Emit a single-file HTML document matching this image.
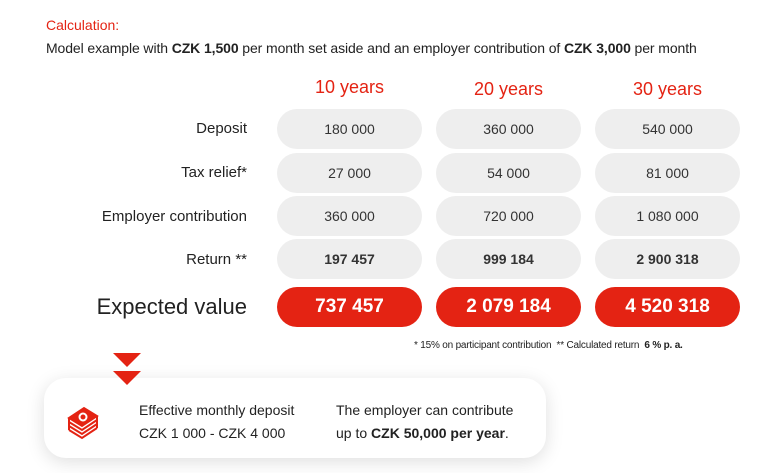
<!DOCTYPE html><html><head><style>
body{margin:0;width:768px;height:473px;background:#fff;font-family:"Liberation Sans",sans-serif;position:relative;overflow:hidden;color:#222}
.a{position:absolute}
.pill{position:absolute;width:145px;height:40px;border-radius:20px;background:#eeeeee;text-align:center;line-height:40px;font-size:14px;color:#333}
.red{background:#e42313;color:#fff;font-weight:bold;font-size:19px;height:40px;line-height:40px}
.lab{position:absolute;right:521px;font-size:15px;color:#222;text-align:right;white-space:nowrap}
.hd{position:absolute;width:145px;text-align:center;color:#e42313;font-size:18px}
</style></head><body>
<div class="a" style="left:46px;top:17px;color:#e42313;font-size:14px">Calculation:</div>
<div class="a" style="left:46px;top:40px;font-size:14px;white-space:nowrap;letter-spacing:-0.1px">Model example with <b>CZK 1,500</b> per month set aside and an employer contribution of <b>CZK 3,000</b> per month</div>
<div class="hd" style="left:277px;top:77px">10 years</div>
<div class="hd" style="left:436px;top:79px">20 years</div>
<div class="hd" style="left:595px;top:79px">30 years</div>
<div class="lab" style="top:120px">Deposit</div>
<div class="lab" style="top:164px">Tax relief*</div>
<div class="lab" style="top:208px">Employer contribution</div>
<div class="lab" style="top:251px">Return **</div>
<div class="lab" style="top:294px;font-size:22px">Expected value</div>
<div class="pill" style="left:277px;top:109px">180 000</div><div class="pill" style="left:436px;top:109px">360 000</div><div class="pill" style="left:595px;top:109px">540 000</div>
<div class="pill" style="left:277px;top:153px">27 000</div><div class="pill" style="left:436px;top:153px">54 000</div><div class="pill" style="left:595px;top:153px">81 000</div>
<div class="pill" style="left:277px;top:196px">360 000</div><div class="pill" style="left:436px;top:196px">720 000</div><div class="pill" style="left:595px;top:196px">1 080 000</div>
<div class="pill" style="left:277px;top:239px;font-weight:bold">197 457</div><div class="pill" style="left:436px;top:239px;font-weight:bold">999 184</div><div class="pill" style="left:595px;top:239px;font-weight:bold">2 900 318</div>
<div class="pill red" style="left:277px;top:287px">737 457</div><div class="pill red" style="left:436px;top:287px">2 079 184</div><div class="pill red" style="left:595px;top:287px">4 520 318</div>
<div class="a" style="left:414px;top:340px;font-size:10px;white-space:nowrap;letter-spacing:-0.2px">* 15% on participant contribution &nbsp;** Calculated return &nbsp;<b>6 % p. a.</b></div>
<div class="a" style="left:44px;top:378px;width:502px;height:80px;border-radius:22px;background:#fff;box-shadow:0 4px 18px rgba(0,0,0,0.13)"></div>
<div class="a" style="left:113px;top:353px;width:0;height:0;border-left:14px solid transparent;border-right:14px solid transparent;border-top:14px solid #e42313"></div>
<div class="a" style="left:113px;top:371px;width:0;height:0;border-left:14px solid transparent;border-right:14px solid transparent;border-top:14px solid #e42313"></div>
<svg class="a" style="left:66px;top:402px" width="34" height="38" viewBox="0 0 34 38" fill="none" stroke="#e42313" stroke-width="2">
<path d="M3 16 L18 6 L31 14 L16 24Z" fill="#e42313"/><circle cx="17" cy="15" r="3.5" stroke="#fff"/>
<path d="M3 20 L16 28 L31 18"/><path d="M3 24 L16 32 L31 22"/><path d="M3 28 L16 36 L31 26"/><path d="M3 16 V28 M31 14 V26"/></svg>
<div class="a" style="left:139px;top:402px;font-size:14px;white-space:nowrap">Effective monthly deposit</div>
<div class="a" style="left:139px;top:425px;font-size:14px;white-space:nowrap">CZK 1 000 - CZK 4 000</div>
<div class="a" style="left:336px;top:402px;font-size:14px;white-space:nowrap">The employer can contribute</div>
<div class="a" style="left:336px;top:425px;font-size:14px;white-space:nowrap">up to <b>CZK 50,000 per year</b>.</div>
</body></html>
